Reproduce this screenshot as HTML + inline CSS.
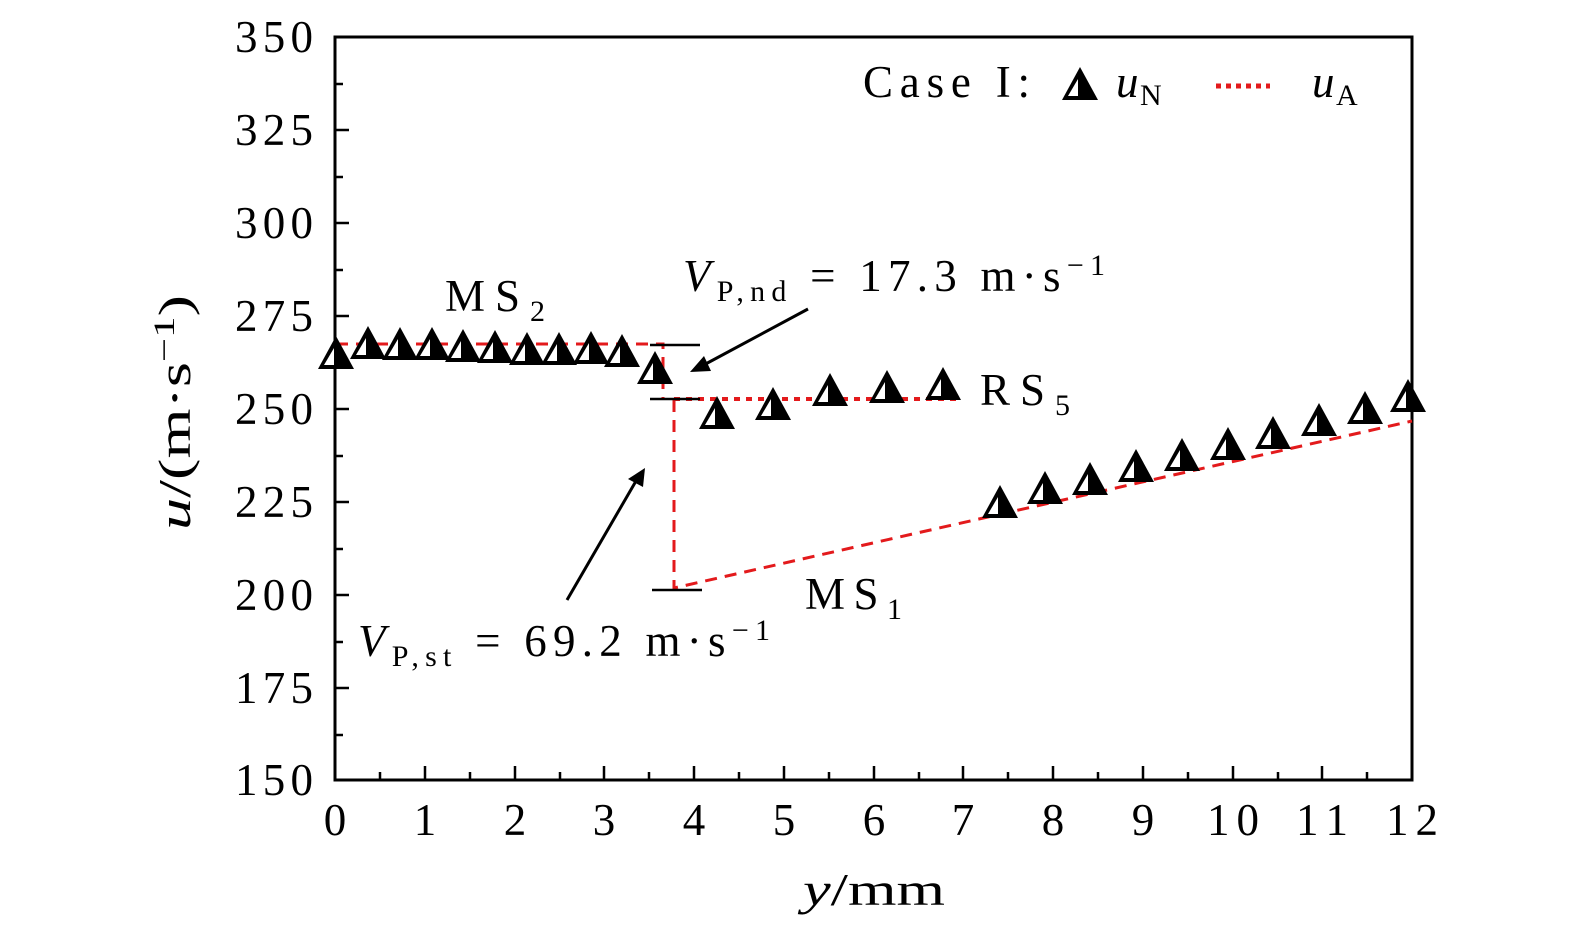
<!DOCTYPE html>
<html><head><meta charset="utf-8"><style>
body{margin:0;background:#fff}
svg{display:block}
text{font-family:"Liberation Serif",serif;fill:#000}
</style></head><body>
<svg width="1575" height="935" viewBox="0 0 1575 935" xmlns="http://www.w3.org/2000/svg">
<defs>
<g id="m">
<polygon points="0,-17 18,16 -18,16" fill="#000"/>
<polygon points="-12,12 -2,12 -2,-5" fill="#fff"/>
</g>
</defs>
<rect x="335" y="37" width="1077" height="743" fill="none" stroke="#000" stroke-width="3"/>
<g stroke="#000" stroke-width="2.5">
<path d="M335 37h14M335 84h8M335 130h14M335 177h8M335 223h14M335 270h8M335 316h14M335 363h8M335 409h14M335 456h8M335 502h14M335 549h8M335 595h14M335 642h8M335 688h14M335 735h8"/>
<path d="M380 780v-8M425 780v-14M470 780v-8M515 780v-14M560 780v-8M604 780v-14M649 780v-8M694 780v-14M739 780v-8M784 780v-14M829 780v-8M874 780v-14M919 780v-8M963 780v-14M1008 780v-8M1053 780v-14M1098 780v-8M1143 780v-14M1188 780v-8M1233 780v-14M1278 780v-8M1322 780v-14M1367 780v-8"/>
</g>
<g font-size="45" lengthAdjust="spacingAndGlyphs">
<text x="235" y="52" textLength="78">350</text><text x="235" y="145" textLength="78">325</text><text x="235" y="238" textLength="78">300</text><text x="235" y="331" textLength="78">275</text><text x="235" y="424" textLength="78">250</text><text x="235" y="517" textLength="78">225</text><text x="235" y="610" textLength="78">200</text><text x="235" y="703" textLength="78">175</text><text x="235" y="795" textLength="78">150</text>
</g>
<g font-size="45" text-anchor="middle">
<text x="335" y="835">0</text><text x="425" y="835">1</text><text x="515" y="835">2</text><text x="604" y="835">3</text><text x="694" y="835">4</text><text x="784" y="835">5</text><text x="874" y="835">6</text><text x="963" y="835">7</text><text x="1053" y="835">8</text><text x="1143" y="835">9</text>
</g>
<g font-size="45" lengthAdjust="spacingAndGlyphs">
<text x="1207" y="835" textLength="52">10</text><text x="1296" y="835" textLength="52">11</text><text x="1386" y="835" textLength="52">12</text>
</g>
<text x="803" y="905" font-size="45" textLength="142" lengthAdjust="spacingAndGlyphs"><tspan font-style="italic">y</tspan>/mm</text>
<text transform="translate(190,530) rotate(-90)" font-size="45" textLength="235" lengthAdjust="spacingAndGlyphs"><tspan font-style="italic">u</tspan>/(m·s<tspan font-size="30" dy="-16">−1</tspan><tspan dy="16">)</tspan></text>
<g stroke="#e31a1c" stroke-width="3" fill="none" stroke-dasharray="12,8">
<path d="M336 344H663V398"/>
<path d="M674 400V588L1412 421"/>
</g>
<path d="M674 399H960" stroke="#e31a1c" stroke-width="4" stroke-dasharray="6,6" fill="none"/>
<g stroke="#000" stroke-width="2.5">
<path d="M650 345H700M650 399H700M652 590H702"/>
</g>
<g>
<use href="#m" x="336" y="353"/><use href="#m" x="368" y="343"/><use href="#m" x="400" y="344"/><use href="#m" x="432" y="344"/><use href="#m" x="463" y="346"/><use href="#m" x="495" y="347"/><use href="#m" x="527" y="349"/><use href="#m" x="559" y="349"/><use href="#m" x="591" y="348"/><use href="#m" x="622" y="351"/><use href="#m" x="655" y="368"/><use href="#m" x="717" y="413"/><use href="#m" x="773" y="404"/><use href="#m" x="830" y="390"/><use href="#m" x="887" y="387"/><use href="#m" x="943" y="384"/><use href="#m" x="1000" y="502"/><use href="#m" x="1045" y="488"/><use href="#m" x="1090" y="479"/><use href="#m" x="1136" y="466"/><use href="#m" x="1182" y="455"/><use href="#m" x="1228" y="444"/><use href="#m" x="1273" y="433"/><use href="#m" x="1319" y="420"/><use href="#m" x="1365" y="408"/><use href="#m" x="1408" y="396"/>
</g>
<g stroke="#000" stroke-width="3">
<path d="M808 309L700 367"/><path d="M567 600L636 481"/>
</g>
<polygon points="690,372 704,356 711,371" fill="#000"/>
<polygon points="645,468 628,479 643,487" fill="#000"/>
<g font-size="45" lengthAdjust="spacingAndGlyphs">
<text x="445" y="311" textLength="100">MS<tspan font-size="30" dy="10">2</tspan></text>
<text x="980" y="405" textLength="90">RS<tspan font-size="30" dy="10">5</tspan></text>
<text x="805" y="609" textLength="97">MS<tspan font-size="30" dy="10">1</tspan></text>
<text x="683" y="291" textLength="422"><tspan font-style="italic">V</tspan><tspan font-size="30" dy="10">P,nd</tspan><tspan dy="-10"> = 17.3 m·s</tspan><tspan font-size="30" dy="-16">−1</tspan></text>
<text x="358" y="656" textLength="412"><tspan font-style="italic">V</tspan><tspan font-size="30" dy="10">P,st</tspan><tspan dy="-10"> = 69.2 m·s</tspan><tspan font-size="30" dy="-16">−1</tspan></text>
<text x="863" y="97" textLength="167">Case I:</text>
</g>
<g font-size="45">
<text x="1116" y="97" font-style="italic">u</text><text x="1140" y="105" font-size="30">N</text>
<text x="1312" y="97" font-style="italic">u</text><text x="1336" y="105" font-size="30">A</text>
</g>
<use href="#m" x="1080" y="84"/>
<path d="M1216 86H1270" stroke="#e31a1c" stroke-width="5" stroke-dasharray="5,5"/>
</svg>
</body></html>
